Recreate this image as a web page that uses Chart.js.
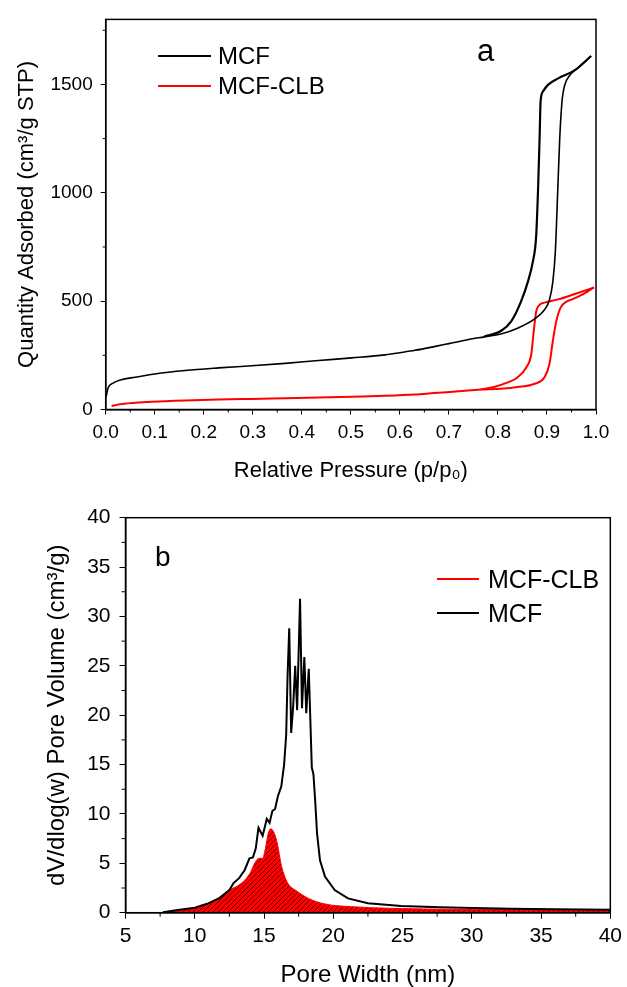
<!DOCTYPE html>
<html>
<head>
<meta charset="utf-8">
<script src="https://cdn.jsdelivr.net/npm/chart.js@4.4.0/dist/chart.umd.min.js"></script>
<style>
  html, body { margin: 0; padding: 0; background: #fff; }
  #page { position: relative; width: 627px; height: 987px; overflow: hidden;
          font-family: "Liberation Sans", Arial, sans-serif; color: #000; }
  .panel { position: absolute; left: 0; width: 627px; }
  .lbl { position: absolute; white-space: nowrap; line-height: 1; transform: translateY(-50%); }
  .key { position: absolute; height: 0; border-top: 2px solid #000; transform: translateY(-1px); }
</style>
</head>
<body>
<div id="page">
  <div class="panel" style="top:0;height:495px"><canvas id="isoChart"></canvas></div>
  <div class="panel" style="top:495px;height:492px"><canvas id="poreChart"></canvas></div>

  <!-- panel a legend -->
  <div class="key" style="left:158px;top:56px;width:53px"></div>
  <div class="lbl" style="left:218px;top:56px;font-size:24px">MCF</div>
  <div class="key" style="left:158px;top:86px;width:53px;border-color:#ff0000"></div>
  <div class="lbl" style="left:218px;top:86px;font-size:24px">MCF-CLB</div>
  <div class="lbl" style="left:477px;top:50px;font-size:31px">a</div>

  <!-- panel b legend -->
  <div class="key" style="left:437px;top:579px;width:42px;border-color:#ff0000"></div>
  <div class="lbl" style="left:488px;top:579px;font-size:25px">MCF-CLB</div>
  <div class="key" style="left:437px;top:613px;width:42px"></div>
  <div class="lbl" style="left:488px;top:613px;font-size:25px">MCF</div>
  <div class="lbl" style="left:155px;top:557px;font-size:28px">b</div>
</div>

<script>
// ---- (a) N2 isotherms: relative pressure vs quantity adsorbed ----
const isoPTicks = [0, 0.1, 0.2, 0.3, 0.4, 0.5, 0.6, 0.7, 0.8, 0.9, 1.0];
const isoQTicks = [0, 500, 1000, 1500];

const mcfAdsP = [0.001, 0.005, 0.015, 0.03, 0.06, 0.10, 0.162, 0.23, 0.298, 0.366, 0.434, 0.502, 0.57, 0.6, 0.631, 0.67, 0.70, 0.738, 0.772,
                 0.806, 0.84, 0.875, 0.895, 0.905, 0.912, 0.917, 0.921, 0.926, 0.931, 0.936, 0.947, 0.964, 0.981, 0.99];
const mcfAdsQ = [60, 100, 122, 136, 149, 164, 180, 192, 202, 213, 226, 238, 252, 262, 273, 290, 304, 322, 335,
                 348, 375, 418, 460, 505, 590, 725, 950, 1250, 1430, 1495, 1543, 1578, 1612, 1631];
const mcfDesP = [0.772, 0.806, 0.827, 0.847, 0.861, 0.871, 0.878, 0.882, 0.885, 0.887, 0.892, 0.902, 0.923, 0.957, 0.99];
const mcfDesQ = [337, 362, 407, 498, 589, 680, 801, 1028, 1255, 1422, 1468, 1498, 1528, 1566, 1631];

const clbAdsP = [0.012, 0.026, 0.06, 0.094, 0.162, 0.23, 0.298, 0.366, 0.434, 0.502, 0.57, 0.631, 0.67, 0.72, 0.765,
                 0.806, 0.84, 0.875, 0.895, 0.905, 0.912, 0.919, 0.928, 0.94, 0.95, 0.97, 0.996];
const clbAdsQ = [16, 23, 31, 36, 42, 46, 49, 52, 55, 59, 63, 69, 76, 84, 92,
                 96, 104, 119, 149, 210, 316, 407, 471, 498, 507, 528, 563];
const clbDesP = [0.765, 0.792, 0.82, 0.84, 0.858, 0.868, 0.873, 0.878, 0.885, 0.895, 0.923, 0.957, 0.996];
const clbDesQ = [93, 104, 125, 148, 195, 255, 361, 452, 483, 493, 508, 533, 563];

// ---- (b) pore size distributions ----
const poreWTicks = [5, 10, 15, 20, 25, 30, 35, 40];
const poreVTicks = [0, 5, 10, 15, 20, 25, 30, 35, 40];

const mcfW = [7.7, 8.9, 10.0, 10.9, 11.8, 12.5, 12.8, 13.2, 13.6, 13.95, 14.2, 14.4, 14.6, 14.9, 15.2, 15.4, 15.6, 15.8, 16.0, 16.25,
              16.45, 16.6, 16.7, 16.82, 16.96, 17.1, 17.25, 17.39, 17.6, 17.74, 17.91, 18.05, 18.23, 18.45, 18.57, 18.69, 18.83,
              19.04, 19.4, 20.1, 21.06, 22.5, 24.9, 27.7, 30.1, 32.8, 36.0, 40.0];
const mcfV = [0.05, 0.3, 0.5, 0.9, 1.5, 2.3, 3.0, 3.5, 4.3, 5.5, 5.6, 6.5, 8.6, 7.8, 9.5, 9.1, 10.3, 10.5, 11.8, 12.8,
              15.0, 18.0, 24.0, 28.8, 18.2, 20.8, 25.0, 20.5, 31.8, 20.7, 25.9, 20.2, 24.7, 14.7, 14.0, 11.4, 8.0,
              5.3, 3.65, 2.3, 1.45, 0.95, 0.68, 0.55, 0.47, 0.4, 0.35, 0.3];
const clbW = [7.7, 8.9, 10.0, 10.9, 11.8, 12.5, 13.2, 13.95, 14.4, 14.6, 14.9, 15.1, 15.3, 15.5, 15.75, 15.96, 16.25, 16.5, 16.8,
              17.25, 18.2, 19.4, 21.3, 24.2, 28.9, 32.8, 40.0];
const clbV = [0.05, 0.25, 0.45, 0.8, 1.5, 2.3, 2.8, 3.9, 5.2, 5.5, 5.5, 6.5, 8.0, 8.5, 8.0, 7.0, 4.8, 3.65, 2.8,
              2.3, 1.45, 0.88, 0.61, 0.44, 0.34, 0.3, 0.25];

const pts = (xs, ys) => xs.map((x, i) => ({ x: x, y: ys[i] }));

Chart.defaults.font.family = '"Liberation Sans", Arial, sans-serif';
Chart.defaults.color = '#000';

// closed frame + short minor ticks halfway between the labelled ones
const framePlugin = {
  id: 'frame',
  afterDraw(chart, args, opts) {
    const { ctx, chartArea: a, scales } = chart;
    ctx.save();
    ctx.strokeStyle = '#000';
    ctx.lineWidth = 1.5;
    ctx.strokeRect(a.left, a.top, a.right - a.left, a.bottom - a.top);
    ctx.lineWidth = 1;
    ctx.beginPath();
    const xs = scales.x, ys = scales.y;
    for (let i = 0; xs.min + opts.xMinor * (2 * i + 1) < xs.max; i++) {
      const px = xs.getPixelForValue(xs.min + opts.xMinor * (2 * i + 1));
      ctx.moveTo(px, a.bottom);
      ctx.lineTo(px, a.bottom + opts.minorLen);
    }
    for (let i = 0; ys.min + opts.yMinor * (2 * i + 1) < ys.max; i++) {
      const py = ys.getPixelForValue(ys.min + opts.yMinor * (2 * i + 1));
      ctx.moveTo(a.left, py);
      ctx.lineTo(a.left - opts.minorLen, py);
    }
    ctx.stroke();
    ctx.restore();
  }
};

function hatch() {
  const c = document.createElement('canvas');
  c.width = 5; c.height = 5;
  const g = c.getContext('2d');
  g.fillStyle = '#ff0000';
  g.fillRect(0, 0, 5, 5);
  g.strokeStyle = 'rgba(0,0,0,0.85)';
  g.lineWidth = 0.7;
  g.beginPath();
  g.moveTo(0, 5); g.lineTo(5, 0);
  g.moveTo(-1, 1); g.lineTo(1, -1);
  g.moveTo(4, 6); g.lineTo(6, 4);
  g.stroke();
  return g.createPattern(c, 'repeat');
}

const lineSet = (data, color, width) => ({
  data: data, borderColor: color, borderWidth: width, pointRadius: 0,
  showLine: true, fill: false, cubicInterpolationMode: 'monotone'
});

const axis = (opts) => ({
  type: 'linear',
  min: opts.min, max: opts.max,
  border: { display: true, color: '#000', width: 1.5 },
  grid: { display: true, drawOnChartArea: false, drawTicks: true, tickLength: opts.tick, tickColor: '#000', tickWidth: 1 },
  ticks: { padding: opts.pad, font: { size: opts.tickSize }, maxRotation: 0, autoSkip: false, callback: opts.fmt },
  afterBuildTicks: s => { s.ticks = opts.ticks.map(v => ({ value: v })); },
  title: { display: true, text: opts.title, font: { size: opts.titleSize, lineHeight: opts.titleLH || 1.2 }, padding: opts.titlePad },
  afterFit: opts.fit
});

// (a)
new Chart(document.getElementById('isoChart'), {
  type: 'scatter',
  data: {
    datasets: [
      lineSet(pts(mcfAdsP, mcfAdsQ), '#000', 1.6),
      lineSet(pts(mcfDesP, mcfDesQ), '#000', 2.2),
      lineSet(pts(clbAdsP, clbAdsQ), '#ff0000', 2),
      lineSet(pts(clbDesP, clbDesQ), '#ff0000', 2)
    ]
  },
  options: {
    responsive: true, maintainAspectRatio: false, animation: false,
    layout: { padding: { top: 15, right: 31, left: 0, bottom: 0 } },
    plugins: { legend: { display: false }, tooltip: { enabled: false },
               frame: { xMinor: 0.05, yMinor: 250, minorLen: 3 } },
    scales: {
      x: axis({ min: 0, max: 1, ticks: isoPTicks, tick: 5, pad: 7, tickSize: 19, fmt: v => v.toFixed(1),
                title: 'Relative Pressure (p/p\u2080)', titleSize: 22, titlePad: { top: 0, bottom: 11 },
                fit: s => { s.height = 85.5; } }),
      y: axis({ min: 0, max: 1800, ticks: isoQTicks, tick: 5, pad: 8, tickSize: 19, fmt: v => String(v),
                title: 'Quantity Adsorbed (cm\u00b3/g STP)', titleSize: 22, titlePad: { top: 14, bottom: 0 },
                fit: s => { s.width = 105.7; } })
    }
  },
  plugins: [framePlugin]
});

// (b)
new Chart(document.getElementById('poreChart'), {
  type: 'scatter',
  data: {
    datasets: [
      Object.assign(lineSet(pts(mcfW, mcfV), '#000', 2), { cubicInterpolationMode: 'default', tension: 0 }),
      Object.assign(lineSet(pts(clbW, clbV), '#ff0000', 1), { fill: 'origin', backgroundColor: hatch() })
    ]
  },
  options: {
    responsive: true, maintainAspectRatio: false, animation: false,
    layout: { padding: { top: 22.7, right: 12.3, left: 0, bottom: 0 } },
    plugins: { legend: { display: false }, tooltip: { enabled: false },
               frame: { xMinor: 2.5, yMinor: 2.5, minorLen: 4 } },
    scales: {
      x: axis({ min: 5, max: 40, ticks: poreWTicks, tick: 6, pad: 5, tickSize: 21, fmt: v => String(v),
                title: 'Pore Width (nm)', titleSize: 24, titleLH: 1, titlePad: { top: 0, bottom: 0 },
                fit: s => { s.height = 74.3; } }),
      y: axis({ min: 0, max: 40, ticks: poreVTicks, tick: 6, pad: 9, tickSize: 21, fmt: v => String(v),
                title: 'dV/dlog(w) Pore Volume (cm\u00b3/g)', titleSize: 24, titlePad: { top: 43, bottom: 0 },
                fit: s => { s.width = 125.5; } })
    }
  },
  plugins: [framePlugin]
});
</script>
</body>
</html>
